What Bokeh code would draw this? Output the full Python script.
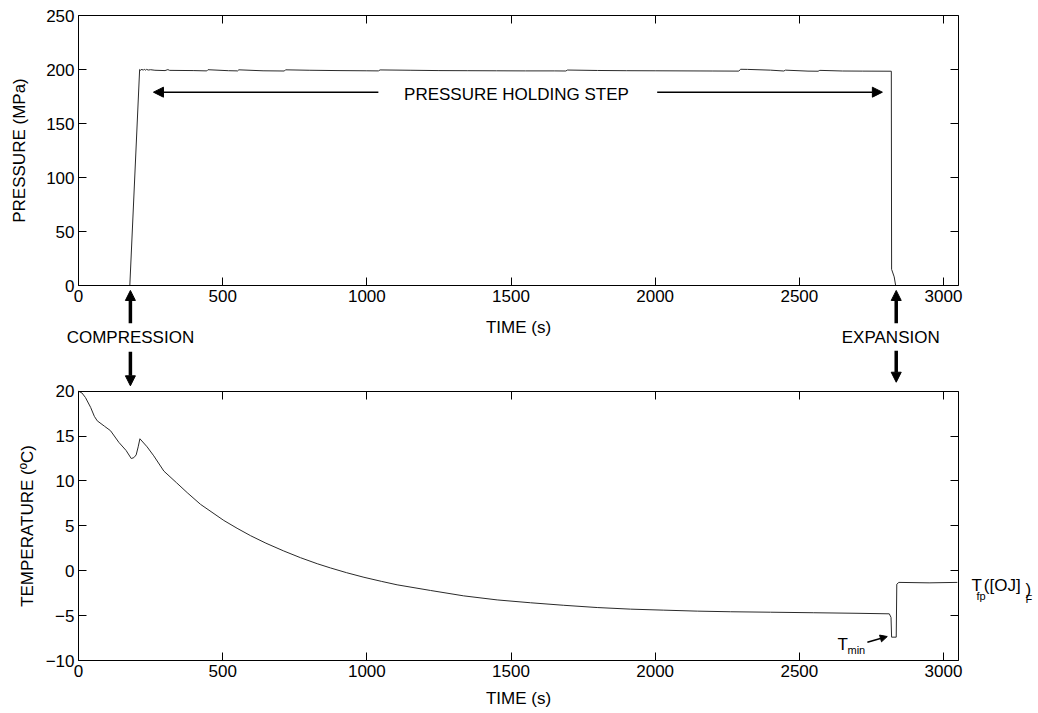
from bokeh.plotting import figure
from bokeh.layouts import column
from bokeh.models import (LinearAxis, FixedTicker, CustomJSTickFormatter, Arrow,
                          NormalHead, Label, Range1d)
from bokeh.embed import file_html
from bokeh.resources import INLINE

# ---- pressure record (s, MPa) ----
pressure_time = [0, 178, 212, 216, 220, 224, 228, 232, 236, 242, 250, 265, 300, 310, 316,
                 400, 445, 449, 520, 552, 556, 640, 714, 718, 800, 900, 1000, 1040, 1046,
                 1150, 1250, 1350, 1450, 1550, 1650, 1690, 1696, 1800, 1900, 2000, 2100,
                 2200, 2290, 2296, 2320, 2400, 2446, 2452, 2530, 2565, 2571, 2650, 2720,
                 2819, 2820, 2829, 2834, 3050]
pressure_mpa = [0, 0, 200, 199.2, 200.4, 199.2, 200.3, 199.4, 200.1, 199.5, 199.8, 199.3,
                199.0, 199.9, 199.2, 199.0, 198.7, 199.8, 198.9, 198.7, 199.7, 198.8, 198.6,
                199.7, 199.3, 199.0, 198.8, 198.7, 199.6, 199.3, 199.0, 198.9, 198.8, 198.7,
                198.7, 198.6, 199.5, 199.1, 198.9, 198.8, 198.7, 198.6, 198.5, 200.2, 200.1,
                199.4, 198.6, 199.4, 198.5, 198.4, 199.2, 198.6, 198.5, 198.4, 15, 8, 0, 0]

# ---- sample temperature record (s, degC) ----
temp_time = [0, 12, 24, 42, 55, 65, 90, 111, 140, 165, 183, 192, 200, 207, 213, 238, 261,
             296, 340, 377, 423, 504, 550, 597, 650, 712, 770, 828, 874, 930, 990, 1050,
             1105, 1221, 1336, 1452, 1568, 1683, 1799, 1915, 2030, 2146, 2262, 2400, 2550,
             2700, 2812, 2818, 2820, 2836, 2838, 2845, 2950, 3048]
temp_c = [20, 19.8, 19.3, 18.2, 17.2, 16.7, 16.1, 15.6, 14.3, 13.4, 12.5, 12.6, 12.9, 13.8,
          14.7, 13.8, 12.8, 11.1, 9.8, 8.7, 7.4, 5.6, 4.73, 3.9, 3.07, 2.2, 1.45, 0.78, 0.31,
          -0.22, -0.73, -1.18, -1.57, -2.2, -2.8, -3.25, -3.57, -3.85, -4.1, -4.28, -4.39,
          -4.5, -4.57, -4.62, -4.68, -4.74, -4.8, -5.2, -7.4, -7.4, -1.5, -1.3, -1.35, -1.3]

# ---- ticks and axis limits ----
time_ticks = [0, 500, 1000, 1500, 2000, 2500, 3000]
pressure_ticks = [0, 50, 100, 150, 200, 250]
temp_ticks = [-10, -5, 0, 5, 10, 15, 20]

T_LIMITS_S = (0, 3052)
P_LIMITS = (0, 250)
T_LIMITS = (-10, 20)

# ---- event markers ----
compression_t = 180
expansion_t = 2836
holding_label_t = 1519

FONT = "Liberation Sans"
FS = "17px"
INK = "black"
TRACE = "#2a2a2a"

# The frame fills each whole figure; the boxed axes sit at fixed data
# positions inside it so that margin texts and arrows are drawn freely.
PX_PER_S = 880 / 3052
X_VIEW = (-78 / PX_PER_S, (1038 - 78) / PX_PER_S)


def style_axis(ax, labelled=True):
    ax.major_tick_in = 8
    ax.major_tick_out = 0
    ax.minor_tick_in = 0
    ax.minor_tick_out = 0
    ax.axis_line_color = INK
    ax.major_tick_line_color = INK
    ax.major_label_text_font = FONT
    ax.major_label_text_font_size = FS if labelled else "0px"
    ax.major_label_text_color = INK
    ax.axis_label_text_font = FONT
    ax.axis_label_text_font_size = FS
    ax.axis_label_text_font_style = "normal"
    ax.axis_label_text_color = INK
    if not labelled:
        ax.formatter = CustomJSTickFormatter(code="return ''")
        ax.major_label_standoff = 0


def boxed(p, ylimits, yticks, ylabel, ylabel_standoff, xlabel_standoff):
    p.grid.visible = False
    p.outline_line_color = None
    p.background_fill_color = "white"
    p.border_fill_color = "white"

    xa, ya = p.xaxis[0], p.yaxis[0]
    style_axis(xa)
    style_axis(ya)
    xa.ticker = FixedTicker(ticks=time_ticks)
    ya.ticker = FixedTicker(ticks=yticks)
    xa.bounds = T_LIMITS_S
    ya.bounds = ylimits
    xa.fixed_location = ylimits[0]
    ya.fixed_location = T_LIMITS_S[0]
    xa.axis_label = "TIME (s)"
    ya.axis_label = ylabel
    xa.major_label_standoff = 4
    ya.major_label_standoff = 4
    xa.axis_label_standoff = xlabel_standoff
    ya.axis_label_standoff = ylabel_standoff

    top_ax = LinearAxis(ticker=FixedTicker(ticks=time_ticks), bounds=T_LIMITS_S,
                        fixed_location=ylimits[1])
    style_axis(top_ax, labelled=False)
    p.add_layout(top_ax, "above")
    right_ax = LinearAxis(ticker=FixedTicker(ticks=yticks), bounds=ylimits,
                          fixed_location=T_LIMITS_S[1])
    style_axis(right_ax, labelled=False)
    p.add_layout(right_ax, "right")


def text(p, x, y, s, size=FS, align="left"):
    p.add_layout(Label(x=x, y=y, text=s, text_font=FONT, text_font_size=size,
                       text_color=INK, text_align=align, text_baseline="middle"))


def arrow(p, x0, y0, x1, y1, width, head):
    p.add_layout(Arrow(x_start=x0, y_start=y0, x_end=x1, y_end=y1,
                       line_color=INK, line_width=width,
                       end=NormalHead(size=head, fill_color=INK, line_color=INK, line_width=1)))


def make_figure(height, y_view):
    return figure(width=1038, height=height, x_range=Range1d(*X_VIEW), y_range=Range1d(*y_view),
                  output_backend="svg", toolbar_location=None,
                  min_border_left=0, min_border_right=0, min_border_top=0, min_border_bottom=0)


# ---------------- pressure panel ----------------
top = make_figure(348, (-63 / 1.08, 250 + 15 / 1.08))
boxed(top, P_LIMITS, pressure_ticks, "PRESSURE (MPa)", 14, 13)
top.line(pressure_time, pressure_mpa, line_color=TRACE, line_width=1)

text(top, holding_label_t, 176.9, "PRESSURE HOLDING STEP", align="center")
arrow(top, 1040, 179, 260, 179, 1.5, 10)
arrow(top, 2007, 179, 2788, 179, 1.5, 10)

# compression / expansion markers below the time axis
arrow(top, compression_t, -35, compression_t, -4.6, 3.5, 10)
arrow(top, expansion_t, -35, expansion_t, -4.6, 3.5, 10)
text(top, compression_t, -48.6, "COMPRESSION", align="center")
text(top, 2817, -48.6, "EXPANSION", align="center")

# ---------------- temperature panel ----------------
T_PX = 269.3 / 30
bottom = make_figure(365, (-10 - 53 / T_PX, 20 + 42.7 / T_PX))
boxed(bottom, T_LIMITS, temp_ticks, "TEMPERATURE (\u00baC)", 6, 9)
bottom.line(temp_time, temp_c, line_color=TRACE, line_width=1)

arrow(bottom, compression_t, 24.4, compression_t, 20.6, 3.5, 10)
arrow(bottom, expansion_t, 24.5, expansion_t, 21.0, 3.5, 10)

# minimum temperature reached right after expansion
text(bottom, 2632, -8.22, "T")
text(bottom, 2667, -8.78, "min", size="11px")
arrow(bottom, 2736, -7.96, 2805, -7.33, 1.5, 7)

# freezing point of the juice after thawing
text(bottom, 3097, -1.64, "T")
text(bottom, 3114, -2.87, "fp", size="11px")
text(bottom, 3140, -1.64, "([OJ]")
text(bottom, 3284, -2.09, ")")
text(bottom, 3284, -3.2, "F", size="11px")

layout = column(top, bottom, spacing=0)
open("out.html", "w").write(file_html(layout, INLINE))
